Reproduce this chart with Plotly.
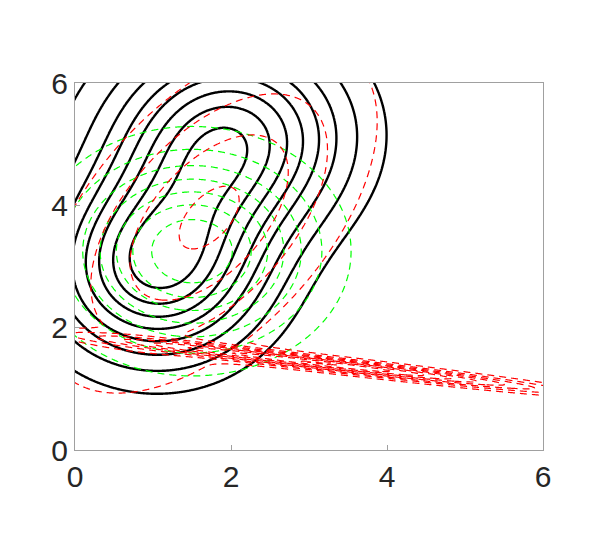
import numpy as np
import plotly.graph_objects as go

# Gaussian components: mean, sd along main axis, sd across, axis angle (deg)
black_w = [0.45, 0.55]
black_mu = [[1.05, 2.95], [1.95, 5.05]]
black_sd = [[1.0, 0.9], [1.1, 1.0]]
black_angle = [90.0, 75.0]

green_w = [1.0]
green_mu = [[1.5, 3.25]]
green_sd = [[1.0, 1.0]]
green_angle = [0.0]

red_w = [0.8565, 0.1435]
red_mu = [[1.72, 3.8], [3.2, 1.41]]
red_sd = [[1.786, 0.9], [1.8, 0.068]]
red_angle = [59.0, -8.4]

ticks = [0, 2, 4, 6]

xg = np.linspace(-0.1, 6.1, 421)
yg = np.linspace(-0.1, 6.1, 421)
X, Y = np.meshgrid(xg, yg)


def gauss(mu, sd, ang):
    t = np.deg2rad(ang)
    dx, dy = X - mu[0], Y - mu[1]
    u = dx * np.cos(t) + dy * np.sin(t)
    v = -dx * np.sin(t) + dy * np.cos(t)
    return np.exp(-0.5 * ((u / sd[0]) ** 2 + (v / sd[1]) ** 2)) / (2 * np.pi * sd[0] * sd[1])


def mixture(w, mu, sd, ang):
    return sum(wi * gauss(m, s, a) for wi, m, s, a in zip(w, mu, sd, ang))


Zb = mixture(black_w, black_mu, black_sd, black_angle)
Zg = mixture(green_w, green_mu, green_sd, green_angle)
Zr = mixture(red_w, red_mu, red_sd, red_angle)

mb, mg = Zb.max(), Zg.max()
pb = red_w[0] / (2 * np.pi * red_sd[0][0] * red_sd[0][1])


def contour(z, start, end, size, color, width, dash):
    return go.Contour(x=xg, y=yg, z=z, autocontour=False,
                      contours=dict(coloring='lines', start=start, end=end, size=size),
                      colorscale=[[0, color], [1, color]], showscale=False,
                      line=dict(width=width, dash=dash, smoothing=1.0), hoverinfo='skip')


fig = go.Figure()
fig.add_trace(contour(Zb, mb / 9, mb * 8.5 / 9, mb / 9, 'black', 2.4, 'solid'))
fig.add_trace(contour(Zg, mg / 8, mg * 7.5 / 8, mg / 8, '#00ff00', 1.2, '7px,5px'))
fig.add_trace(contour(Zr, 0.2 * pb, Zr.max(), 0.25 * pb, '#ff0000', 1.2, '7px,5px'))

axis = dict(range=[0, 6], tickvals=ticks, ticks='inside', ticklen=5, tickcolor='#a0a0a0',
            showgrid=False, zeroline=False, showline=True, linecolor='#a0a0a0', linewidth=1,
            mirror=True, automargin=False,
            tickfont=dict(family='Liberation Sans', size=30, color='#262626'))

fig.update_layout(width=598, height=549, margin=dict(l=67, r=63, t=75, b=107),
                  paper_bgcolor='white', plot_bgcolor='white', showlegend=False,
                  xaxis=axis, yaxis=axis)
fig.write_html("out.html")
